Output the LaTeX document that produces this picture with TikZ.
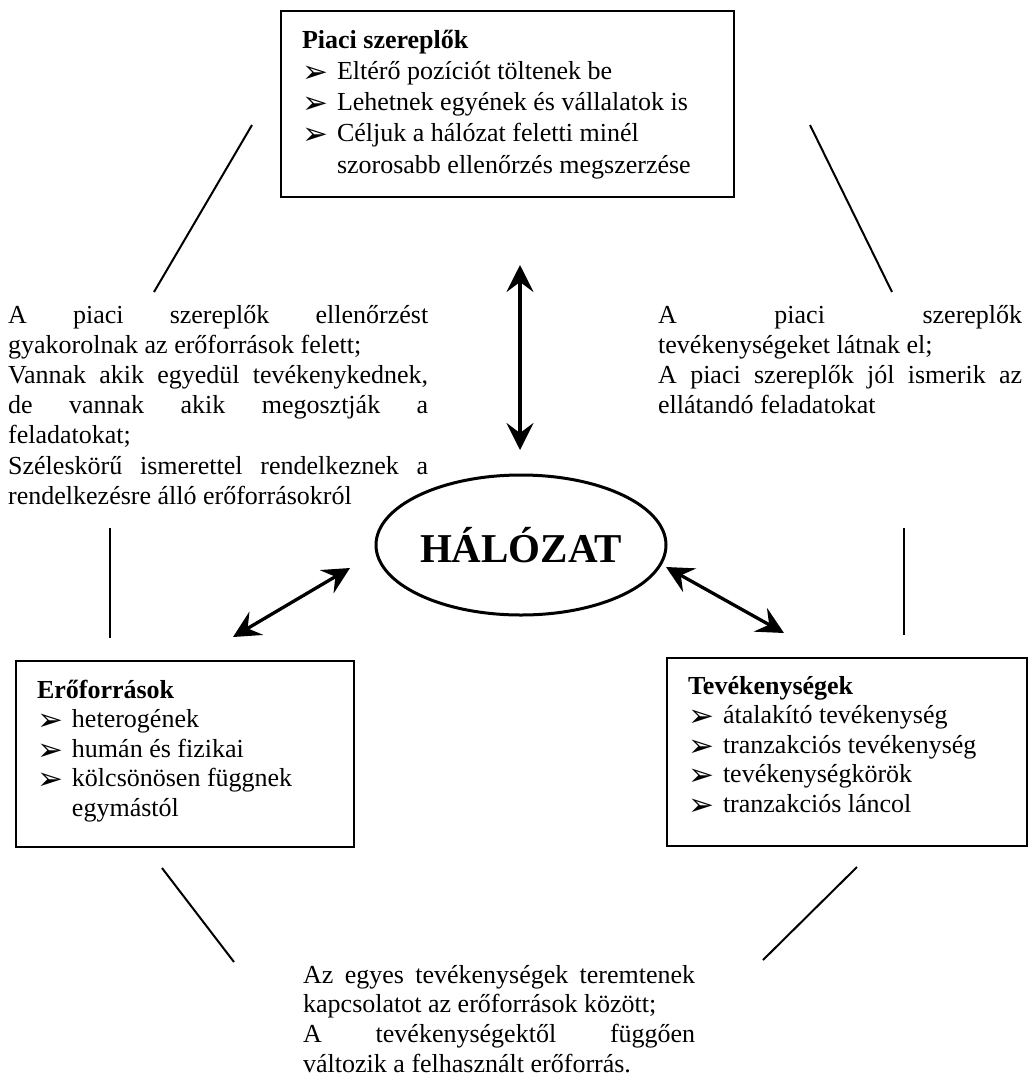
\documentclass[tikz,border=0pt]{standalone}
\usepackage{fontspec}
\setmainfont{Liberation Serif}
\newfontfamily\dingfont{DejaVu Sans}
\usetikzlibrary{arrows.meta,shapes.geometric}

% bullet of the lists, and indent of a continued item
\newcommand{\bul}{\makebox[35pt][l]{\raisebox{-3pt}{\dingfont\fontsize{31}{31}\selectfont ➢}}}
\newcommand{\cont}{\hspace*{35pt}}
% a line stretched to the full paragraph width
\newcommand{\jline}[1]{\makebox[\linewidth][s]{#1}}

\begin{document}
\begin{tikzpicture}[x=1pt,y=-1pt,
  every node/.style={inner sep=0pt, font=\fontsize{26}{30}\selectfont},
  box/.style={draw, line width=2pt, anchor=north west, inner xsep=21pt, inner ysep=0pt},
  para/.style={anchor=base west},
  link/.style={line width=2pt},
  dblarrow/.style={line width=3.3pt,
    {Stealth[length=27pt,width=27pt,inset=10pt]}-{Stealth[length=27pt,width=27pt,inset=10pt]}}
]
\useasboundingbox[fill=white] (0,0) rectangle (1036,1080);

% ---- the three boxes ----
\node[box] (piac) at (280,10) {\parbox[t][186pt][t]{411pt}{\fontsize{26}{31.25}\selectfont
  \rule{0pt}{37pt}\textbf{Piaci szereplők}\\
  \bul Eltérő pozíciót töltenek be\\
  \bul Lehetnek egyének és vállalatok is\\
  \bul Céljuk a hálózat feletti minél\\
  \cont szorosabb ellenőrzés megszerzése}};

\node[box] (eroforras) at (15,660) {\parbox[t][186pt][t]{296pt}{\fontsize{26}{29.5}\selectfont
  \rule{0pt}{37pt}\textbf{Erőforrások}\\
  \bul heterogének\\
  \bul humán és fizikai\\
  \bul kölcsönösen függnek\\
  \cont egymástól}};

\node[box] (tevek) at (666,657) {\parbox[t][188pt][t]{318pt}{\fontsize{26}{29.5}\selectfont
  \rule{0pt}{36pt}\textbf{Tevékenységek}\\
  \bul átalakító tevékenység\\
  \bul tranzakciós tevékenység\\
  \bul tevékenységkörök\\
  \bul tranzakciós láncol}};

% ---- the network in the middle ----
\node[draw, ellipse, line width=3pt, minimum width=290pt, minimum height=140pt,
  font=\fontsize{41}{41}\bfseries\selectfont] (halo) at (521,545) {HÁLÓZAT};

% ---- relation texts ----
\node[para] (balszoveg) at (8,323) {\parbox[t]{420pt}{\fontsize{26}{30.2}\selectfont
  \jline{A piaci szereplők ellenőrzést}\\
  gyakorolnak az erőforrások felett;\\
  \jline{Vannak akik egyedül tevékenykednek,}\\
  \jline{de vannak akik megosztják a}\\
  feladatokat;\\
  \jline{Széleskörű ismerettel rendelkeznek a}\\
  rendelkezésre álló erőforrásokról}};

\node[para] (jobbszoveg) at (658,323) {\parbox[t]{364pt}{\fontsize{26}{30}\selectfont
  \jline{A piaci szereplők}\\
  tevékenységeket látnak el;\\
  \jline{A piaci szereplők jól ismerik az}\\
  ellátandó feladatokat}};

\node[para] (alsoszoveg) at (303,983) {\parbox[t]{392pt}{\fontsize{26}{29.7}\selectfont
  \jline{Az egyes tevékenységek teremtenek}\\
  kapcsolatot az erőforrások között;\\
  \jline{A tevékenységektől függően}\\
  változik a felhasznált erőforrás.}};

% ---- end points of the connectors ----
\coordinate (fel1) at (520,265);   \coordinate (fel2) at (520,450);
\coordinate (bal1) at (350,568);   \coordinate (bal2) at (233,637);
\coordinate (jobb1) at (666,567);  \coordinate (jobb2) at (784,633);

\coordinate (tl1) at (252,125);    \coordinate (tl2) at (154,292);
\coordinate (tr1) at (810,125);    \coordinate (tr2) at (892,292);
\coordinate (ml1) at (110,528);    \coordinate (ml2) at (110,638);
\coordinate (mr1) at (904,528);    \coordinate (mr2) at (904,635);
\coordinate (bl1) at (162,868);    \coordinate (bl2) at (234,962);
\coordinate (br1) at (857,867);    \coordinate (br2) at (763,960);

% ---- double arrows around the network ----
\draw[dblarrow] (fel1) -- (fel2);
\draw[dblarrow] (bal1) -- (bal2);
\draw[dblarrow] (jobb1) -- (jobb2);

% ---- plain linking strokes ----
\draw[link] (tl1) -- (tl2);
\draw[link] (tr1) -- (tr2);
\draw[link] (ml1) -- (ml2);
\draw[link] (mr1) -- (mr2);
\draw[link] (bl1) -- (bl2);
\draw[link] (br1) -- (br2);
\end{tikzpicture}
\end{document}
